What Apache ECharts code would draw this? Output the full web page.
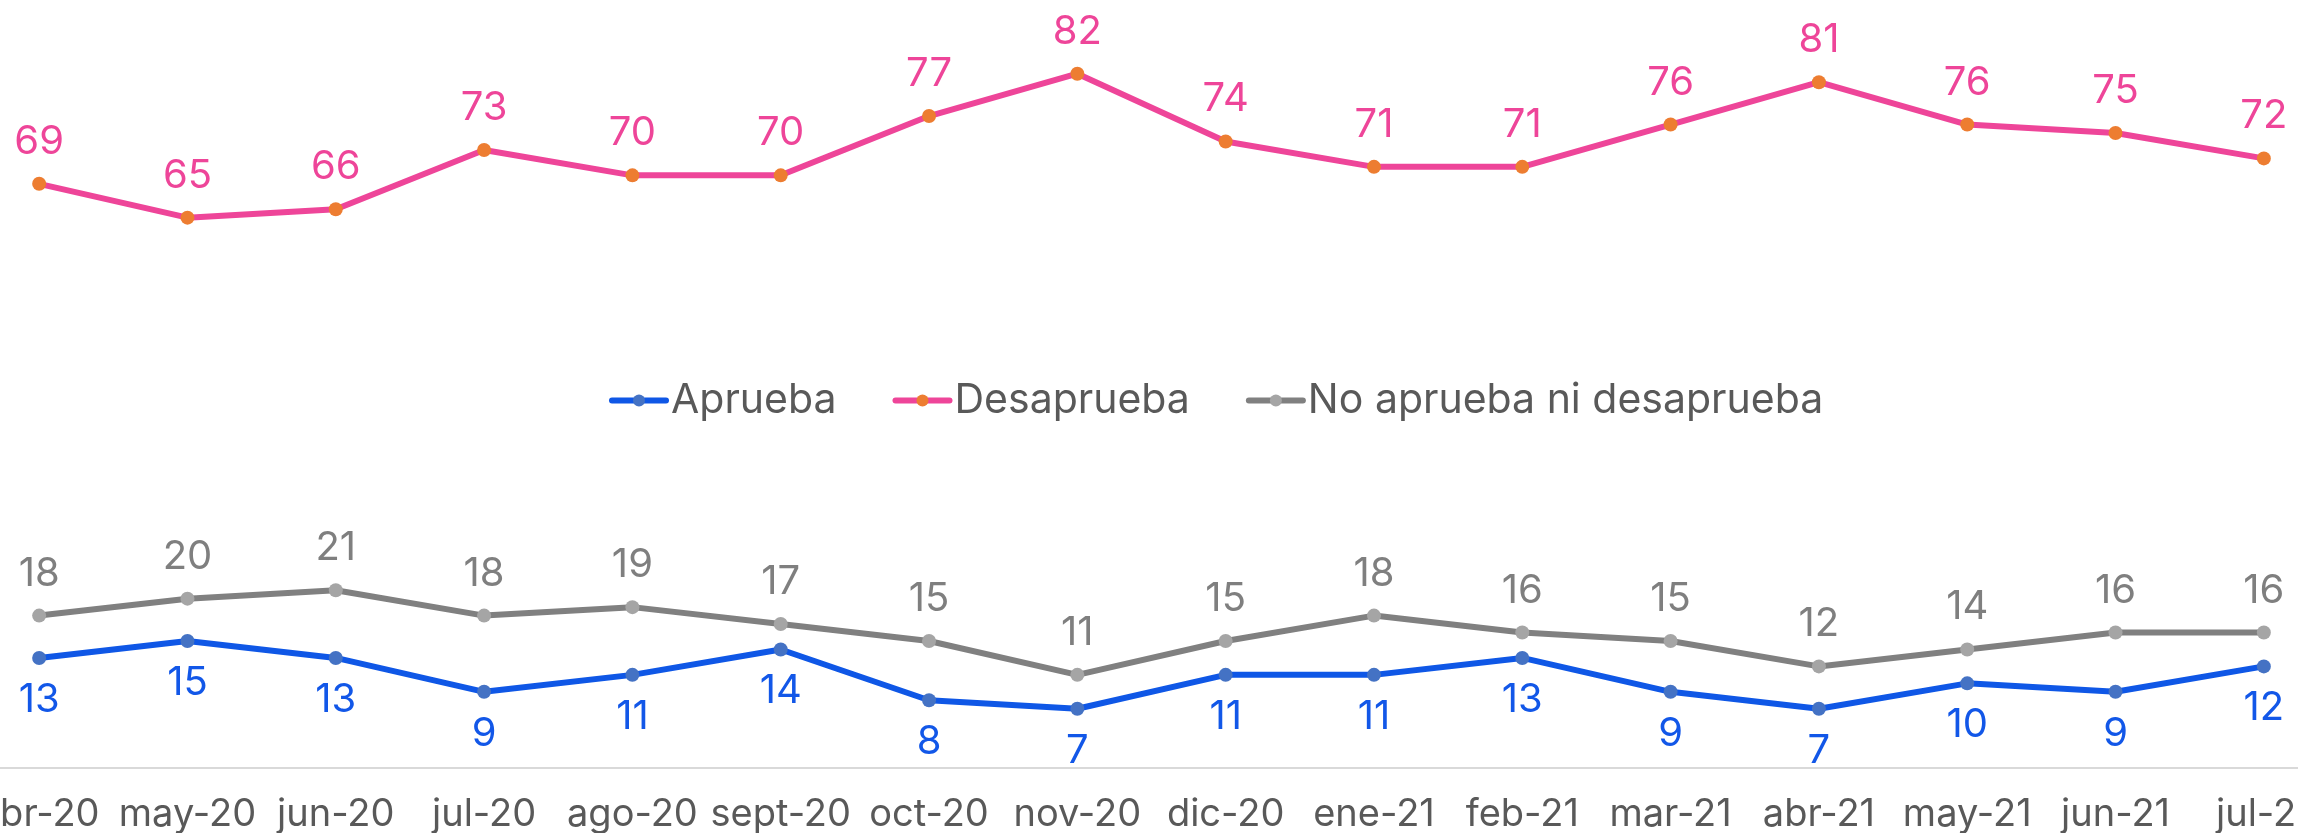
<!DOCTYPE html>
<html>
<head>
<meta charset="utf-8">
<script src="https://cdn.jsdelivr.net/npm/echarts@6/dist/echarts.min.js"></script>
<style>
  html, body { margin: 0; padding: 0; background: #ffffff; }
  #chart { width: 2298px; height: 833px; }
</style>
</head>
<body>
<div id="chart"></div>
<script>
// Monthly approval survey, abr-20 to jul-21
const months = ['abr-20', 'may-20', 'jun-20', 'jul-20', 'ago-20', 'sept-20', 'oct-20', 'nov-20',
                'dic-20', 'ene-21', 'feb-21', 'mar-21', 'abr-21', 'may-21', 'jun-21', 'jul-21'];
const aprueba     = [13, 15, 13, 9, 11, 14, 8, 7, 11, 11, 13, 9, 7, 10, 9, 12];
const desaprueba  = [69, 65, 66, 73, 70, 70, 77, 82, 74, 71, 71, 76, 81, 76, 75, 72];
const noAprueba   = [18, 20, 21, 18, 19, 17, 15, 11, 15, 18, 16, 15, 12, 14, 16, 16];

const FONT = 'Inter, "Noto Sans", sans-serif';

function lineSeries(name, data, lineColor, markColor, labelColor, labelPos) {
  return {
    name: name,
    type: 'line',
    data: data,
    symbol: 'circle',
    symbolSize: 14,
    lineStyle: { color: lineColor, width: 6, cap: 'round', join: 'round' },
    itemStyle: { color: markColor },
    label: {
      show: true,
      position: labelPos,
      distance: 15,
      color: labelColor,
      fontFamily: FONT,
      fontSize: 40
    },
    emphasis: { disabled: true },
    animation: false
  };
}

const chart = echarts.init(document.getElementById('chart'), null, { renderer: 'canvas' });
chart.setOption({
  backgroundColor: '#ffffff',
  animation: false,
  grid: {
    left: -35,
    right: -40,
    top: 6,
    bottom: 65,
    containLabel: false,
    outerBoundsMode: 'none'
  },
  legend: {
    left: 604,
    top: 375,
    itemWidth: 54,
    itemHeight: 15,
    itemGap: 56,
    lineStyle: { width: 6, cap: 'round' },
    textStyle: { color: '#595959', fontFamily: FONT, fontSize: 41 },
    data: ['Aprueba', 'Desaprueba', 'No aprueba ni desaprueba']
  },
  xAxis: {
    type: 'category',
    data: months,
    boundaryGap: true,
    axisLine: { show: true, lineStyle: { color: '#D9D9D9', width: 2 } },
    axisTick: { show: false },
    axisLabel: {
      color: '#595959',
      fontFamily: FONT,
      fontSize: 38,
      margin: 28,
      interval: 0
    }
  },
  yAxis: {
    type: 'value',
    min: 0,
    max: 90,
    show: false,
    splitLine: { show: false }
  },
  series: [
    lineSeries('Aprueba', aprueba, '#0F57E6', '#4472C4', '#1257E8', 'bottom'),
    lineSeries('Desaprueba', desaprueba, '#EE4599', '#ED7D31', '#EE4599', 'top'),
    lineSeries('No aprueba ni desaprueba', noAprueba, '#808080', '#A5A5A5', '#7F7F7F', 'top')
  ]
});
</script>
</body>
</html>
